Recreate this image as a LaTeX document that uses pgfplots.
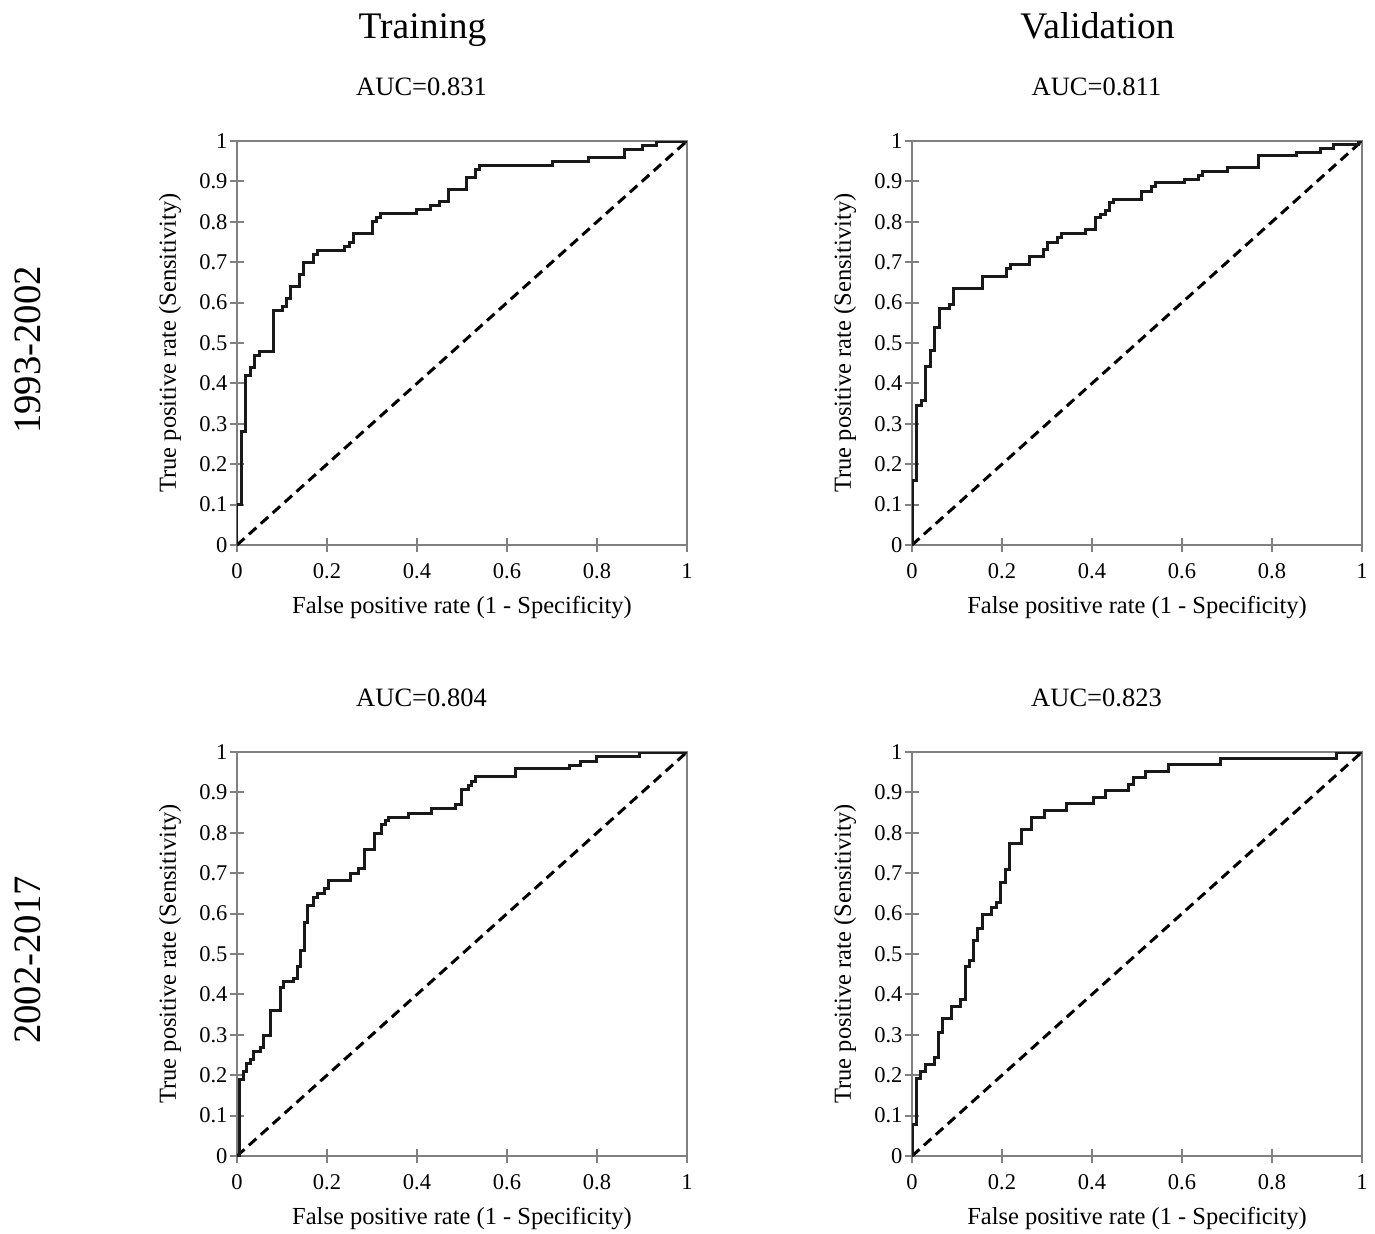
\documentclass[border=0pt]{standalone}
\usepackage{fontspec}
\setmainfont{Liberation Serif}
\usepackage{pgfplots}
\pgfplotsset{compat=1.18}

\pgfplotsset{
  rocax/.style={
    scale only axis,
    width=180pt, height=161.6pt,
    xmin=0, xmax=1, ymin=0, ymax=1,
    xtick={0,0.2,0.4,0.6,0.8,1},
    ytick={0,0.1,0.2,0.3,0.4,0.5,0.6,0.7,0.8,0.9,1},
    xtick pos=bottom, ytick pos=left,
    tick align=center, major tick length=5.6pt,
    axis line style={draw=gray, line width=0.8pt},
    tick style={draw=gray, line width=0.8pt},
    /pgf/number format/assume math mode=true,
    tick label style={font=\fontsize{9}{10.8}\selectfont},
    yticklabel style={xshift=2.5pt},
    xticklabel style={yshift=-1pt},
    label style={font=\fontsize{9.8}{11.5}\selectfont},
    xlabel={False positive rate (1 - Specificity)},
    ylabel={True positive rate (Sensitivity)},
    xlabel style={at={(axis description cs:0.5,-0.1535)}, anchor=center},
    ylabel style={at={(axis description cs:-0.149,0.5)}, anchor=center},
    title style={at={(axis description cs:0.41,1)}, anchor=center, yshift=15.6pt,
      font=\fontsize{10.6}{12.5}\selectfont},
  },
  roc/.style={const plot, black!90, line width=1.2pt},
  chance/.style={black, line width=1.2pt, dash pattern=on 4pt off 2.4pt},
}

\begin{document}
\begin{tikzpicture}
\useasboundingbox (0,0) rectangle (550pt,-493.6pt);

% column and row headings
\node[font=\fontsize{15}{18}\selectfont, anchor=base] at (169pt,-15.2pt) {Training};
\node[font=\fontsize{15}{18}\selectfont, anchor=base] at (439pt,-15.2pt) {Validation};
\node[font=\fontsize{15.5}{18}\selectfont, rotate=90] at (11.2pt,-140pt) {1993-2002};
\node[font=\fontsize{15.5}{18}\selectfont, rotate=90] at (11.2pt,-384pt) {2002-2017};

% 1993-2002, training
\begin{axis}[rocax, at={(94.8pt,-218pt)}, anchor=south west, title={AUC=0.831}]
\addplot[chance] coordinates {(0,0) (1,1)};
\addplot[roc] coordinates {
(0,0) (0,0.10) (0.011,0.28) (0.020,0.42) (0.029,0.44) (0.038,0.47) (0.049,0.48)
(0.081,0.58) (0.101,0.59) (0.110,0.61) (0.119,0.64) (0.140,0.67) (0.148,0.70)
(0.170,0.72) (0.179,0.73) (0.240,0.74) (0.250,0.75) (0.260,0.77) (0.302,0.80)
(0.311,0.81) (0.320,0.82) (0.400,0.83) (0.431,0.84) (0.451,0.85) (0.471,0.88)
(0.511,0.91) (0.531,0.93) (0.540,0.94) (0.702,0.95) (0.781,0.96) (0.861,0.98)
(0.902,0.99) (0.932,1.00) (1,1)
};
\end{axis}

% 1993-2002, validation
\begin{axis}[rocax, at={(364.8pt,-218pt)}, anchor=south west, title={AUC=0.811}]
\addplot[chance] coordinates {(0,0) (1,1)};
\addplot[roc] coordinates {
(0,0) (0,0.16) (0.010,0.345) (0.020,0.358) (0.030,0.442) (0.040,0.482) (0.051,0.538)
(0.061,0.586) (0.083,0.596) (0.093,0.636) (0.157,0.665) (0.209,0.684) (0.218,0.694)
(0.260,0.713) (0.292,0.732) (0.302,0.750) (0.324,0.761) (0.333,0.771) (0.385,0.781)
(0.407,0.810) (0.418,0.819) (0.429,0.829) (0.438,0.848) (0.448,0.856) (0.511,0.876)
(0.533,0.887) (0.540,0.897) (0.605,0.905) (0.637,0.914) (0.646,0.924) (0.700,0.934)
(0.770,0.964) (0.855,0.972) (0.907,0.982) (0.937,0.992) (0.993,1.00) (1,1)
};
\end{axis}

% 2002-2017, training
\begin{axis}[rocax, at={(94.8pt,-462.4pt)}, anchor=south west, title={AUC=0.804}]
\addplot[chance] coordinates {(0,0) (1,1)};
\addplot[roc] coordinates {
(0,0) (0.005,0.19) (0.014,0.208) (0.021,0.23) (0.030,0.239) (0.036,0.259) (0.053,0.269)
(0.058,0.298) (0.075,0.36) (0.096,0.418) (0.103,0.431) (0.125,0.44) (0.134,0.469)
(0.142,0.509) (0.149,0.579) (0.156,0.621) (0.171,0.64) (0.178,0.65) (0.195,0.662)
(0.203,0.681) (0.253,0.70) (0.270,0.711) (0.283,0.759) (0.305,0.798) (0.322,0.821)
(0.329,0.83) (0.337,0.839) (0.381,0.849) (0.433,0.86) (0.486,0.87) (0.500,0.907)
(0.514,0.918) (0.522,0.928) (0.531,0.939) (0.620,0.958) (0.740,0.967) (0.763,0.977)
(0.800,0.988) (0.895,1.00) (1,1)
};
\end{axis}

% 2002-2017, validation
\begin{axis}[rocax, at={(364.8pt,-462.4pt)}, anchor=south west, title={AUC=0.823}]
\addplot[chance] coordinates {(0,0) (1,1)};
\addplot[roc] coordinates {
(0,0) (0,0.077) (0.010,0.193) (0.019,0.209) (0.029,0.226) (0.050,0.243) (0.059,0.306)
(0.067,0.34) (0.087,0.371) (0.107,0.388) (0.118,0.468) (0.127,0.484) (0.136,0.534)
(0.146,0.564) (0.157,0.598) (0.177,0.615) (0.187,0.627) (0.197,0.677) (0.207,0.71)
(0.216,0.774) (0.244,0.807) (0.266,0.838) (0.294,0.856) (0.344,0.873) (0.403,0.888)
(0.431,0.904) (0.481,0.92) (0.492,0.936) (0.518,0.951) (0.569,0.969) (0.686,0.984)
(0.943,1.00) (1,1)
};
\end{axis}
\end{tikzpicture}
\end{document}
